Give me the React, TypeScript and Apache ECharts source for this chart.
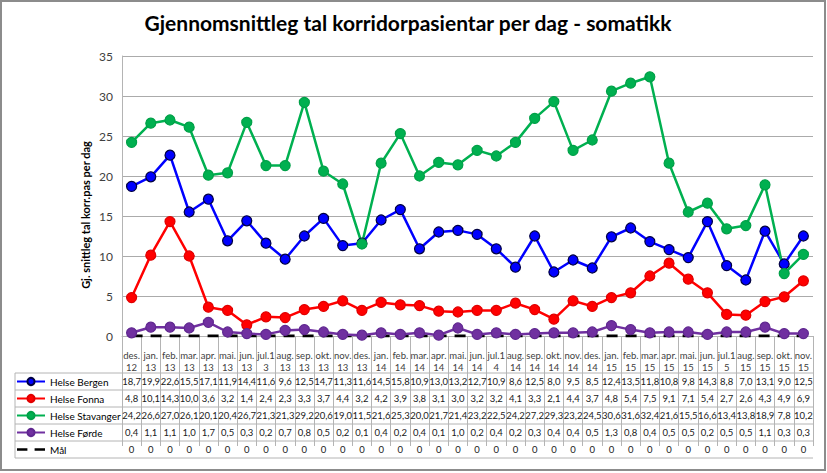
import React, { useEffect, useRef } from "react";
import * as echarts from "echarts";

const categories = [
  "des.\n12", "jan.\n13", "feb.\n13", "mar.\n13", "apr.\n13", "mai.\n13", "jun.\n13", "jul.1\n3",
  "aug.\n13", "sep.\n13", "okt.\n13", "nov.\n13", "des.\n13", "jan.\n14", "feb.\n14", "mar.\n14",
  "apr.\n14", "mai.\n14", "jun.\n14", "jul.1\n4", "aug.\n14", "sep.\n14", "okt.\n14", "nov.\n14",
  "des.\n14", "jan.\n15", "feb.\n15", "mar.\n15", "apr.\n15", "mai.\n15", "jun.\n15", "jul.1\n5",
  "aug.\n15", "sep.\n15", "okt.\n15", "nov.\n15",
];

const bergen = [18.7, 19.9, 22.6, 15.5, 17.1, 11.9, 14.4, 11.6, 9.6, 12.5, 14.7, 11.3, 11.6, 14.5, 15.8, 10.9, 13.0, 13.2, 12.7, 10.9, 8.6, 12.5, 8.0, 9.5, 8.5, 12.4, 13.5, 11.8, 10.8, 9.8, 14.3, 8.8, 7.0, 13.1, 9.0, 12.5];
const fonna = [4.8, 10.1, 14.3, 10.0, 3.6, 3.2, 1.4, 2.4, 2.3, 3.3, 3.7, 4.4, 3.2, 4.2, 3.9, 3.8, 3.1, 3.0, 3.2, 3.2, 4.1, 3.3, 2.1, 4.4, 3.7, 4.8, 5.4, 7.5, 9.1, 7.1, 5.4, 2.7, 2.6, 4.3, 4.9, 6.9];
const stavanger = [24.2, 26.6, 27.0, 26.1, 20.1, 20.4, 26.7, 21.3, 21.3, 29.2, 20.6, 19.0, 11.5, 21.6, 25.3, 20.0, 21.7, 21.4, 23.2, 22.5, 24.2, 27.2, 29.3, 23.2, 24.5, 30.6, 31.6, 32.4, 21.6, 15.5, 16.6, 13.4, 13.8, 18.9, 7.8, 10.2];
const forde = [0.4, 1.1, 1.1, 1.0, 1.7, 0.5, 0.3, 0.2, 0.7, 0.8, 0.5, 0.2, 0.1, 0.4, 0.2, 0.4, 0.1, 1.0, 0.2, 0.4, 0.2, 0.3, 0.4, 0.4, 0.5, 1.3, 0.8, 0.4, 0.5, 0.5, 0.2, 0.5, 0.5, 1.1, 0.3, 0.3];
const maal = [0, 0, 0, 0, 0, 0, 0, 0, 0, 0, 0, 0, 0, 0, 0, 0, 0, 0, 0, 0, 0, 0, 0, 0, 0, 0, 0, 0, 0, 0, 0, 0, 0, 0, 0, 0];

const seriesNames = ["Helse Bergen", "Helse Fonna", "Helse Stavanger", "Helse Førde", "Mål"];
const title = "Gjennomsnittleg tal korridorpasientar per dag - somatikk";
const yAxisTitle = "Gj. snittleg tal korr.pas per dag";

const FONT = "Lato, 'Liberation Sans', sans-serif";

export default function App() {
  const ref = useRef<HTMLDivElement>(null);
  useEffect(() => {
    if (!ref.current) return;
    const chart = echarts.init(ref.current, null, { renderer: "svg" });

    const gridLeft = 122;
    const gridRight = 813;
    const gridTop = 56;
    const gridBottom = 336;
    const tableTop = 348;
    const headerH = 25;
    const rowH = 17;
    const tableLeft = 15;
    const tableBottom = tableTop + headerH + rowH * 5;
    const lineGray = "#B4B4B4";

    const fmt = (v: number, dec: boolean) => (dec ? v.toFixed(1).replace(".", ",") : String(v));
    const rows: string[][] = [
      bergen.map((v) => fmt(v, true)),
      fonna.map((v) => fmt(v, true)),
      stavanger.map((v) => fmt(v, true)),
      forde.map((v) => fmt(v, true)),
      maal.map((v) => fmt(v, false)),
    ];

    const rowAxes = rows.map((r, i) => ({
      type: "category",
      data: categories,
      gridIndex: 0,
      position: "bottom",
      offset: tableTop + headerH - gridBottom + i * rowH,
      boundaryGap: true,
      axisLine: { show: false },
      axisTick: { show: false },
      axisLabel: {
        interval: 0,
        margin: 3,
        fontSize: 9.5,
        fontFamily: FONT,
        color: "#202020",
        hideOverlap: false,
        formatter: (_v: string, idx: number) => r[idx],
      },
    }));

    const hLines: any[] = [];
    for (let i = 0; i <= 5; i++) {
      const y = tableTop + headerH + i * rowH;
      hLines.push({
        type: "line",
        shape: { x1: tableLeft, y1: y, x2: gridRight, y2: y },
        style: { stroke: lineGray, lineWidth: 1 },
        silent: true,
      });
    }

    const lineSeries = (name: string, data: number[], color: string, border: string) => ({
      name,
      type: "line",
      data,
      symbol: "circle",
      symbolSize: 10,
      lineStyle: { color, width: 2.5 },
      itemStyle: { color, borderColor: border, borderWidth: 1.2 },
      z: 3,
    });

    chart.setOption({
      animation: false,
      backgroundColor: "#ffffff",
      grid: {
        left: gridLeft,
        top: gridTop,
        width: gridRight - gridLeft,
        height: gridBottom - gridTop,
        containLabel: false,
      },
      legend: {
        orient: "vertical",
        left: 16,
        top: tableTop + headerH + 2,
        padding: 0,
        itemWidth: 28,
        itemHeight: 9,
        itemGap: 4,
        selectedMode: false,
        data: [
          ...seriesNames.slice(0, 4),
          { name: "Mål", icon: "path://M0,0H13V3H0Z M22,0H35V3H22Z", itemStyle: { color: "#000" } },
        ],
        textStyle: { fontSize: 10, lineHeight: 13, fontFamily: FONT, color: "#000" },
      },
      yAxis: {
        type: "value",
        min: 0,
        max: 35,
        interval: 5,
        axisLine: { show: true, lineStyle: { color: lineGray } },
        axisTick: { show: false },
        axisLabel: { fontSize: 12, color: "#404040", margin: 9, fontFamily: FONT },
        splitLine: { lineStyle: { color: "#ABABAB" } },
      },
      xAxis: [
        {
          type: "category",
          data: categories,
          position: "bottom",
          offset: tableTop - gridBottom,
          boundaryGap: true,
          axisLine: { show: true, lineStyle: { color: lineGray } },
          axisTick: {
            show: true,
            interval: 0,
            length: tableBottom - tableTop,
            lineStyle: { color: lineGray },
          },
          axisLabel: {
            interval: 0,
            margin: 1,
            fontSize: 9.5,
            lineHeight: 12,
            color: "#404040",
            fontFamily: FONT,
            hideOverlap: false,
          },
        },
        ...rowAxes,
      ],
      series: [
        {
          name: "Mål",
          type: "line",
          data: maal,
          symbol: "none",
          lineStyle: { color: "#000000", width: 3, type: [11, 8] },
          itemStyle: { color: "#000000" },
          z: 2,
        },
        lineSeries("Helse Bergen", bergen, "#0000FF", "#000040"),
        lineSeries("Helse Fonna", fonna, "#FF0000", "#E00000"),
        lineSeries("Helse Stavanger", stavanger, "#00B050", "#00A048"),
        lineSeries("Helse Førde", forde, "#7030A0", "#602890"),
      ],
      graphic: [
        {
          type: "rect",
          shape: { x: 1, y: 1, width: 824, height: 469 },
          style: { fill: "none", stroke: "#8C8C8C", lineWidth: 2 },
          silent: true,
        },
        {
          type: "text",
          x: 408,
          y: 22,
          style: {
            text: title,
            fontSize: 21,
            fontWeight: "bold",
            fontFamily: FONT,
            fill: "#000",
            align: "center",
            verticalAlign: "middle",
          },
        },
        {
          type: "text",
          x: 85,
          y: 215,
          rotation: Math.PI / 2,
          style: {
            text: yAxisTitle,
            fontSize: 11,
            fontWeight: "bold",
            fontFamily: FONT,
            fill: "#000",
            align: "center",
            verticalAlign: "middle",
          },
        },
        ...hLines,
        {
          type: "line",
          shape: { x1: tableLeft, y1: tableTop + headerH, x2: tableLeft, y2: tableBottom },
          style: { stroke: lineGray, lineWidth: 1 },
          silent: true,
        },
      ],
    });
    return () => chart.dispose();
  }, []);
  return <div ref={ref} style={{ position: "fixed", left: 0, top: 0, width: 827, height: 473 }} />;
}
